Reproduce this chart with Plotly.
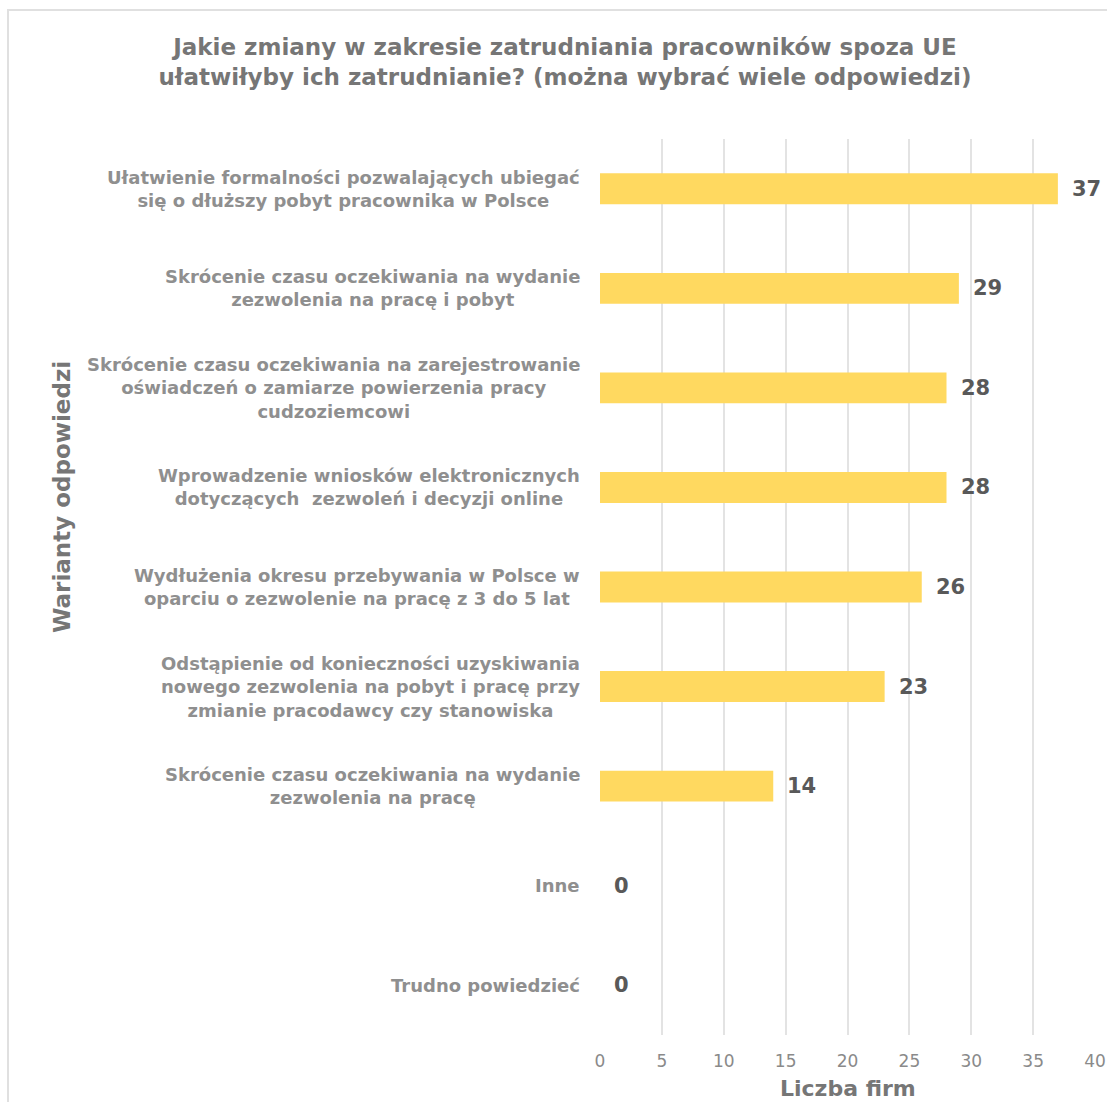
import plotly.graph_objects as go

# Survey answers (top to bottom) and number of firms choosing each
categories = [
    "Ułatwienie formalności pozwalających ubiegać<br>się o dłuższy pobyt pracownika w Polsce",
    "Skrócenie czasu oczekiwania na wydanie<br>zezwolenia na pracę i pobyt",
    "Skrócenie czasu oczekiwania na zarejestrowanie<br>oświadczeń o zamiarze powierzenia pracy<br>cudzoziemcowi",
    "Wprowadzenie wniosków elektronicznych<br>dotyczących  zezwoleń i decyzji online",
    "Wydłużenia okresu przebywania w Polsce w<br>oparciu o zezwolenie na pracę z 3 do 5 lat",
    "Odstąpienie od konieczności uzyskiwania<br>nowego zezwolenia na pobyt i pracę przy<br>zmianie pracodawcy czy stanowiska",
    "Skrócenie czasu oczekiwania na wydanie<br>zezwolenia na pracę",
    "Inne",
    "Trudno powiedzieć",
]
values = [37, 29, 28, 28, 26, 23, 14, 0, 0]
x_ticks = [0, 5, 10, 15, 20, 25, 30, 35, 40]

title_text = ("Jakie zmiany w zakresie zatrudniania pracowników spoza UE<br>"
              "ułatwiłyby ich zatrudnianie? (można wybrać wiele odpowiedzi)")
x_title = "Liczba firm"
y_title = "Warianty odpowiedzi"

FONT = "DejaVu Sans"
ids = list(range(len(categories)))

fig = go.Figure(
    go.Bar(
        x=values,
        y=ids,
        orientation="h",
        width=0.31,
        marker=dict(color="#FFD960", line=dict(width=0)),
        hoverinfo="x",
    )
)

annotations = []
# value labels at the end of each bar
for i, v in zip(ids, values):
    annotations.append(dict(
        x=v, y=i, xref="x", yref="y", text=f"<b>{v}</b>",
        showarrow=False, xanchor="left", yanchor="middle", xshift=12,
        font=dict(family=FONT, size=21, color="#595959"),
    ))
# category labels, centred line by line
for i, c in zip(ids, categories):
    annotations.append(dict(
        x=0, y=i, xref="paper", yref="y", text=f"<b>{c}</b>",
        showarrow=False, xanchor="right", yanchor="middle", xshift=-18,
        align="center",
        font=dict(family=FONT, size=18, color="#8f8f8f"),
    ))
# x-axis title
annotations.append(dict(
    x=0.5, y=-(1088 - 1035) / 896, xref="paper", yref="paper",
    text=f"<b>{x_title}</b>", showarrow=False, yanchor="middle",
    font=dict(family=FONT, size=22, color="#767676"),
))
# y-axis title, rotated
annotations.append(dict(
    x=-(600 - 62) / 495, y=(1035 - 497) / 896, xref="paper", yref="paper",
    text=f"<b>{y_title}</b>", textangle=-90, showarrow=False,
    xanchor="center", yanchor="middle",
    font=dict(family=FONT, size=23, color="#767676"),
))

fig.update_layout(
    width=1107,
    height=1102,
    margin=dict(l=600, r=12, t=139, b=67, autoexpand=False),
    paper_bgcolor="white",
    plot_bgcolor="white",
    showlegend=False,
    title=dict(
        text=f"<b>{title_text}</b>",
        x=565 / 1107, xanchor="center", y=1 - 55 / 1102, yanchor="middle",
        font=dict(family=FONT, size=23, color="#767676"),
    ),
    xaxis=dict(
        range=[0, 40],
        tickvals=x_ticks,
        showgrid=True,
        gridcolor="#e3e3e3",
        gridwidth=1.5,
        zeroline=False,
        showline=False,
        ticks="",
        ticklabelstandoff=14,
        tickfont=dict(family=FONT, size=17, color="#8a8a8a"),
        fixedrange=True,
    ),
    yaxis=dict(
        range=[len(categories) - 0.5, -0.5],
        showticklabels=False,
        showgrid=False,
        zeroline=False,
        ticks="",
        fixedrange=True,
    ),
    annotations=annotations,
    shapes=[
        # chart frame
        dict(type="rect", xref="paper", yref="paper",
             x0=-592 / 495, x1=1.2, y0=-0.2, y1=(1102 - 10 - 67) / 896,
             line=dict(color="#e0e0e0", width=2), fillcolor="rgba(0,0,0,0)",
             layer="below"),
    ],
)

fig.write_html("out.html")
